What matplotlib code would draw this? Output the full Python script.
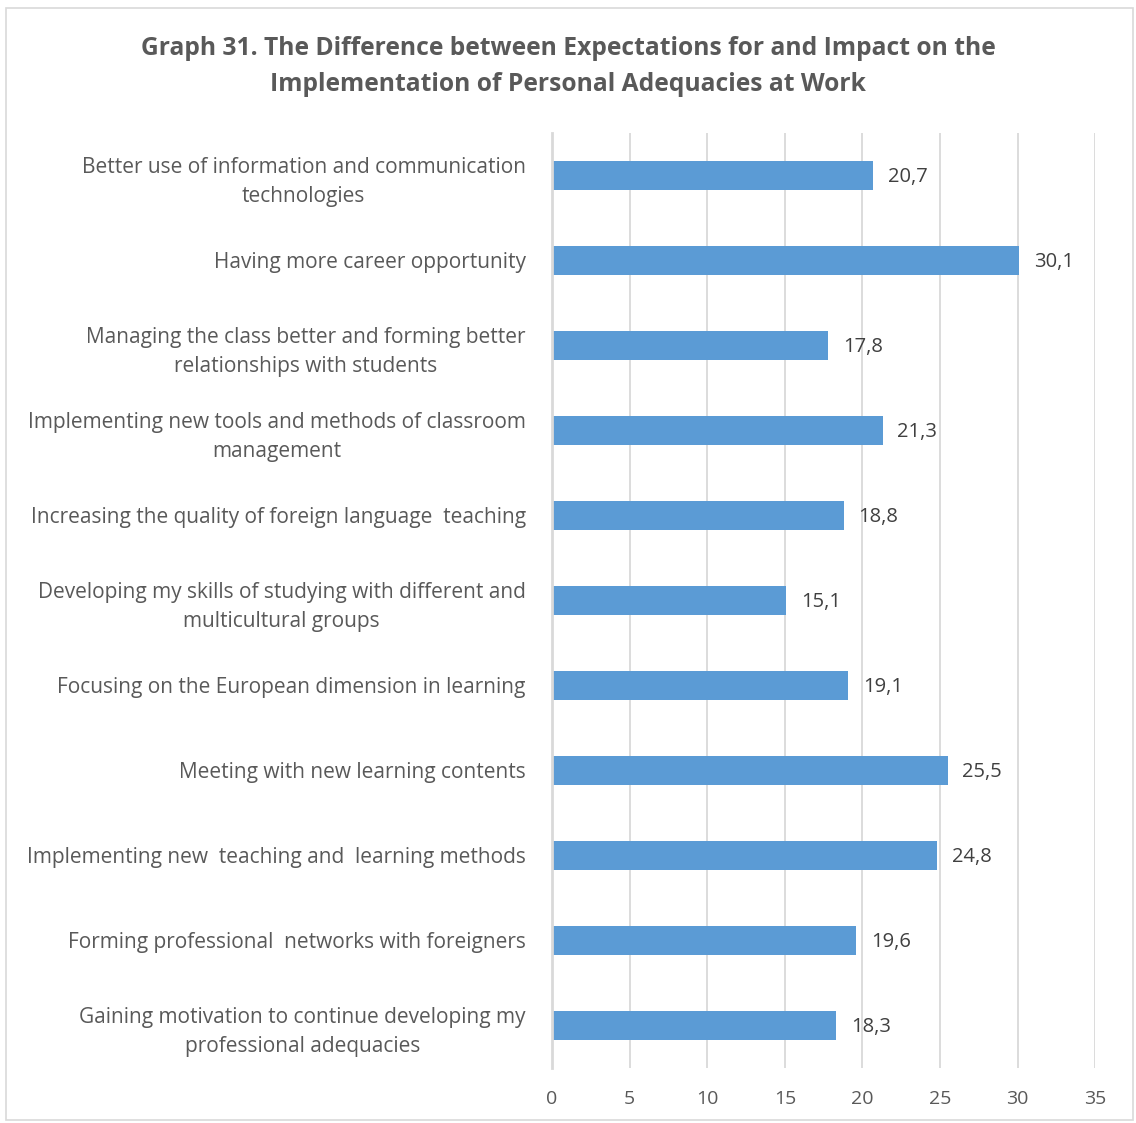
import numpy as np
import matplotlib.pyplot as plt

plt.rcParams['font.family'] = ['Open Sans', 'DejaVu Sans']

# categories top to bottom
labels = [
    'Better use of information and communication\ntechnologies',
    'Having more career opportunity',
    'Managing the class better and forming better\nrelationships with students',
    'Implementing new tools and methods of classroom\nmanagement',
    'Increasing the quality of foreign language  teaching',
    'Developing my skills of studying with different and\nmulticultural groups',
    'Focusing on the European dimension in learning',
    'Meeting with new learning contents',
    'Implementing new  teaching and  learning methods',
    'Forming professional  networks with foreigners',
    'Gaining motivation to continue developing my\nprofessional adequacies',
]
values = [20.7, 30.1, 17.8, 21.3, 18.8, 15.1, 19.1, 25.5, 24.8, 19.6, 18.3]
xticks = [0, 5, 10, 15, 20, 25, 30, 35]

text_col = '#595959'
value_col = '#404040'
grid_col = '#D9D9D9'
bar_col = '#5B9BD5'

fig = plt.figure(figsize=(11.36, 11.23), dpi=100)
ax = fig.add_axes([0.486, 0.049, 0.478, 0.8326])

y = np.arange(len(values))
ax.barh(y, values, height=0.35, color=bar_col, zorder=3)
ax.set_ylim(len(values) - 0.5, -0.5)
ax.set_xlim(0, 35)

for yi, v in zip(y, values):
    ax.text(v + 0.95, yi + 0.02, f'{v:.1f}'.replace('.', ','), va='center', ha='left',
            fontsize=14.5, color=value_col)

ax.set_xticks(xticks)
ax.set_xticklabels([str(t) for t in xticks])
ax.set_yticks(y)
ax.set_yticklabels(labels, multialignment='center', linespacing=1.5)
ax.tick_params(axis='x', length=0, pad=16, labelsize=14, labelcolor=text_col)
ax.tick_params(axis='y', length=0, pad=19, labelsize=15, labelcolor=text_col)

ax.grid(axis='x', color=grid_col, linewidth=1.3, zorder=0)
for s in ['top', 'right', 'bottom']:
    ax.spines[s].set_visible(False)
ax.spines['left'].set_color(grid_col)
ax.spines['left'].set_linewidth(2)
ax.spines['left'].set_zorder(4)

fig.text(0.5, 0.968, 'Graph 31. The Difference between Expectations for and Impact on the\n'
         'Implementation of Personal Adequacies at Work',
         ha='center', va='top', fontsize=17.7, fontweight='bold', color=text_col,
         linespacing=1.6)

# outer frame
fig.patches.append(plt.Rectangle((0.005, 0.003), 0.992, 0.99, transform=fig.transFigure,
                                 fill=False, edgecolor=grid_col, linewidth=1.2))

fig.savefig('out.png', dpi=100)
